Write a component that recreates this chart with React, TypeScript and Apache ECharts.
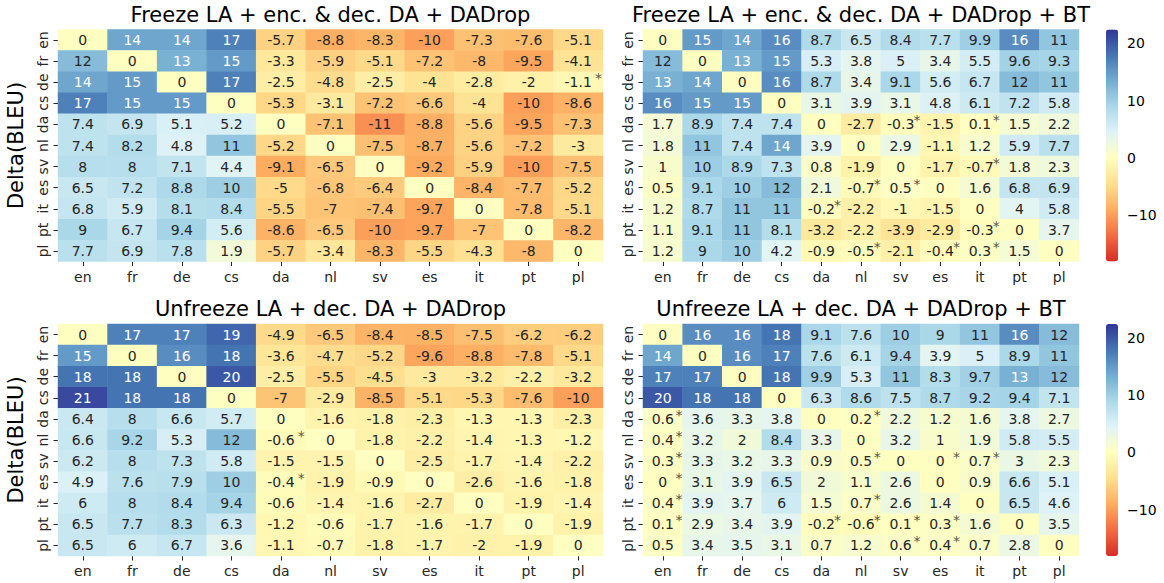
import React, { useEffect, useRef } from "react";
import * as echarts from "echarts";

const langs = ["en", "fr", "de", "cs", "da", "nl", "sv", "es", "it", "pt", "pl"];

const titles = [
  "Freeze LA + enc. & dec. DA + DADrop",
  "Freeze LA + enc. & dec. DA + DADrop + BT",
  "Unfreeze LA + dec. DA + DADrop",
  "Unfreeze LA + dec. DA + DADrop + BT",
];

const yAxisTitle = "Delta(BLEU)";
const colorbarTicks = [-10, 0, 10, 20];

// rows = source language (y), columns = target language (x)
const freezeDA = [
  [0, 14, 14, 17, -5.7, -8.8, -8.3, -10, -7.3, -7.6, -5.1],
  [12, 0, 13, 15, -3.3, -5.9, -5.1, -7.2, -8, -9.5, -4.1],
  [14, 15, 0, 17, -2.5, -4.8, -2.5, -4, -2.8, -2, -1.1],
  [17, 15, 15, 0, -5.3, -3.1, -7.2, -6.6, -4, -10, -8.6],
  [7.4, 6.9, 5.1, 5.2, 0, -7.1, -11, -8.8, -5.6, -9.5, -7.3],
  [7.4, 8.2, 4.8, 11, -5.2, 0, -7.5, -8.7, -5.6, -7.2, -3],
  [8, 8, 7.1, 4.4, -9.1, -6.5, 0, -9.2, -5.9, -10, -7.5],
  [6.5, 7.2, 8.8, 10, -5, -6.8, -6.4, 0, -8.4, -7.7, -5.2],
  [6.8, 5.9, 8.1, 8.4, -5.5, -7, -7.4, -9.7, 0, -7.8, -5.1],
  [9, 6.7, 9.4, 5.6, -8.6, -6.5, -10, -9.7, -7, 0, -8.2],
  [7.7, 6.9, 7.8, 1.9, -5.7, -3.4, -8.3, -5.5, -4.3, -8, 0],
];

const freezeDABT = [
  [0, 15, 14, 16, 8.7, 6.5, 8.4, 7.7, 9.9, 16, 11],
  [12, 0, 13, 15, 5.3, 3.8, 5, 3.4, 5.5, 9.6, 9.3],
  [13, 14, 0, 16, 8.7, 3.4, 9.1, 5.6, 6.7, 12, 11],
  [16, 15, 15, 0, 3.1, 3.9, 3.1, 4.8, 6.1, 7.2, 5.8],
  [1.7, 8.9, 7.4, 7.4, 0, -2.7, -0.3, -1.5, 0.1, 1.5, 2.2],
  [1.8, 11, 7.4, 14, 3.9, 0, 2.9, -1.1, 1.2, 5.9, 7.7],
  [1, 10, 8.9, 7.3, 0.8, -1.9, 0, -1.7, -0.7, 1.8, 2.3],
  [0.5, 9.1, 10, 12, 2.1, -0.7, 0.5, 0, 1.6, 6.8, 6.9],
  [1.2, 8.7, 11, 11, -0.2, -2.2, -1, -1.5, 0, 4, 5.8],
  [1.1, 9.1, 11, 8.1, -3.2, -2.2, -3.9, -2.9, -0.3, 0, 3.7],
  [1.2, 9, 10, 4.2, -0.9, -0.5, -2.1, -0.4, 0.3, 1.5, 0],
];

const unfreezeDA = [
  [0, 17, 17, 19, -4.9, -6.5, -8.4, -8.5, -7.5, -6.2, -6.2],
  [15, 0, 16, 18, -3.6, -4.7, -5.2, -9.6, -8.8, -7.8, -5.1],
  [18, 18, 0, 20, -2.5, -5.5, -4.5, -3, -3.2, -2.2, -3.2],
  [21, 18, 18, 0, -7, -2.9, -8.5, -5.1, -5.3, -7.6, -10],
  [6.4, 8, 6.6, 5.7, 0, -1.6, -1.8, -2.3, -1.3, -1.3, -2.3],
  [6.6, 9.2, 5.3, 12, -0.6, 0, -1.8, -2.2, -1.4, -1.3, -1.2],
  [6.2, 8, 7.3, 5.8, -1.5, -1.5, 0, -2.5, -1.7, -1.4, -2.2],
  [4.9, 7.6, 7.9, 10, -0.4, -1.9, -0.9, 0, -2.6, -1.6, -1.8],
  [6, 8, 8.4, 9.4, -0.6, -1.4, -1.6, -2.7, 0, -1.9, -1.4],
  [6.5, 7.7, 8.3, 6.3, -1.2, -0.6, -1.7, -1.6, -1.7, 0, -1.9],
  [6.5, 6, 6.7, 3.6, -1.1, -0.7, -1.8, -1.7, -2, -1.9, 0],
];

const unfreezeDABT = [
  [0, 16, 16, 18, 9.1, 7.6, 10, 9, 11, 16, 12],
  [14, 0, 16, 17, 7.6, 6.1, 9.4, 3.9, 5, 8.9, 11],
  [17, 17, 0, 18, 9.9, 5.3, 11, 8.3, 9.7, 13, 12],
  [20, 18, 18, 0, 6.3, 8.6, 7.5, 8.7, 9.2, 9.4, 7.1],
  [0.6, 3.6, 3.3, 3.8, 0, 0.2, 2.2, 1.2, 1.6, 3.8, 2.7],
  [0.4, 3.2, 2, 8.4, 3.3, 0, 3.2, 1, 1.9, 5.8, 5.5],
  [0.3, 3.3, 3.2, 3.3, 0.9, 0.5, 0, 0, 0.7, 3, 2.3],
  [0, 3.1, 3.9, 6.5, 2, 1.1, 2.6, 0, 0.9, 6.6, 5.1],
  [0.4, 3.9, 3.7, 6, 1.5, 0.7, 2.6, 1.4, 0, 6.5, 4.6],
  [0.1, 2.9, 3.4, 3.9, -0.2, -0.6, 0.1, 0.3, 1.6, 0, 3.5],
  [0.5, 3.4, 3.5, 3.1, 0.7, 1.2, 0.6, 0.4, 0.7, 2.8, 0],
];

// cells marked with an asterisk: [row, column]
const sigFreezeDA = [["de", "pl"]];
const sigFreezeDABT = [
  ["da", "sv"], ["da", "it"], ["sv", "it"], ["es", "nl"], ["es", "sv"],
  ["it", "da"], ["pt", "it"], ["pl", "nl"], ["pl", "es"], ["pl", "it"],
];
const sigUnfreezeDA = [["nl", "da"], ["es", "da"]];
const sigUnfreezeDABT = [
  ["da", "en"], ["nl", "en"], ["sv", "en"], ["es", "en"], ["it", "en"], ["pt", "en"],
  ["da", "nl"], ["sv", "nl"], ["it", "nl"], ["pt", "nl"], ["pt", "da"],
  ["sv", "es"], ["sv", "it"], ["pt", "sv"], ["pt", "es"], ["pl", "sv"], ["pl", "es"],
];

const matrices = [freezeDA, freezeDABT, unfreezeDA, unfreezeDABT];
const sigs = [sigFreezeDA, sigFreezeDABT, sigUnfreezeDA, sigUnfreezeDABT];

const VMIN = -18.1;
const VMAX = 22.4;
const FONT = "DejaVu Sans";
const FS = 14;

const RDYLBU = ["#a50026", "#d73027", "#f46d43", "#fdae61", "#fee090", "#ffffbf", "#e0f3f8", "#abd9e9", "#74add1", "#4575b4", "#313695"];

function hexRgb(h: string) {
  return [parseInt(h.slice(1, 3), 16), parseInt(h.slice(3, 5), 16), parseInt(h.slice(5, 7), 16)];
}
function cmapRgb(t: number) {
  t = Math.max(0, Math.min(1, t));
  const p = t * 10;
  const i = Math.min(9, Math.floor(p));
  const f = p - i;
  const a = hexRgb(RDYLBU[i]);
  const b = hexRgb(RDYLBU[i + 1]);
  return [0, 1, 2].map((k) => a[k] + (b[k] - a[k]) * f);
}
function valueRgb(v: number) {
  return cmapRgb((v + VMAX) / (2 * VMAX));
}
function toHex(rgb: number[]) {
  return "#" + rgb.map((c) => Math.round(c).toString(16).padStart(2, "0")).join("");
}
function isDark(v: number) {
  const lin = valueRgb(v).map((c) => {
    const s = c / 255;
    return s <= 0.03928 ? s / 12.92 : Math.pow((s + 0.055) / 1.055, 2.4);
  });
  const l = 0.2126 * lin[0] + 0.7152 * lin[1] + 0.0722 * lin[2];
  return l <= 0.408;
}

const stops: string[] = [];
for (let i = 0; i <= 80; i++) {
  const v = VMIN + ((VMAX - VMIN) * i) / 80;
  stops.push(toHex(valueRgb(v)));
}

const grids = [
  { left: 58, top: 29.5, width: 545, height: 232 },
  { left: 643, top: 29.5, width: 436, height: 232 },
  { left: 58, top: 324, width: 545, height: 232 },
  { left: 643, top: 324, width: 436, height: 232 },
];
const cbars = [
  { left: 1106, top: 29.5, width: 12, height: 232 },
  { left: 1106, top: 324, width: 12, height: 232 },
];

function buildOption() {
  const grid: any[] = [...grids, ...cbars];
  const xAxis: any[] = [];
  const yAxis: any[] = [];
  const series: any[] = [];
  const graphic: any[] = [];

  grids.forEach((g, gi) => {
    xAxis.push({
      type: "category",
      gridIndex: gi,
      data: langs,
      axisLine: { show: false },
      axisTick: { show: true, interval: 0, alignWithLabel: true, length: 4.5, lineStyle: { color: "#262626", width: 1 } },
      axisLabel: { interval: 0, fontSize: FS, color: "#262626", fontFamily: FONT, margin: 8 },
      splitLine: { show: false },
    });
    yAxis.push({
      type: "category",
      gridIndex: gi,
      data: langs,
      inverse: true,
      axisLine: { show: false },
      axisTick: { show: true, interval: 0, alignWithLabel: true, length: 4.5, lineStyle: { color: "#262626", width: 1 } },
      axisLabel: { interval: 0, fontSize: FS, color: "#262626", fontFamily: FONT, rotate: 90, margin: 8 },
      splitLine: { show: false },
    });
  });
  cbars.forEach((c, ci) => {
    xAxis.push({ type: "value", gridIndex: 4 + ci, show: false, min: 0, max: 1 });
    yAxis.push({
      type: "value",
      gridIndex: 4 + ci,
      min: VMIN,
      max: VMAX,
      position: "right",
      axisLine: { show: false },
      splitLine: { show: false },
      axisTick: { show: true, length: 4.5, customValues: colorbarTicks, lineStyle: { color: "#000" } },
      axisLabel: {
        show: true,
        customValues: colorbarTicks,
        fontSize: FS,
        color: "#000",
        fontFamily: FONT,
        margin: 9,
        formatter: (v: number) => String(v).replace("-", "\u2212"),
      },
    });
  });

  matrices.forEach((m, gi) => {
    const data: any[] = [];
    m.forEach((row, r) => row.forEach((v, c) => data.push([c, r, v])));
    series.push({
      type: "heatmap",
      xAxisIndex: gi,
      yAxisIndex: gi,
      data,
      emphasis: { disabled: true },
      label: {
        show: true,
        fontSize: FS,
        fontFamily: FONT,
        formatter: (p: any) => {
          const v = p.value[2];
          return "{" + (isDark(v) ? "w" : "d") + "|" + String(v) + "}";
        },
        rich: {
          d: { color: "#262626", fontSize: FS, fontFamily: FONT },
          w: { color: "#ffffff", fontSize: FS, fontFamily: FONT },
        },
      },
    });
  });

  sigs.forEach((s, gi) => {
    const cellW = grids[gi].width / langs.length;
    series.push({
      type: "scatter",
      xAxisIndex: gi,
      yAxisIndex: gi,
      symbol: "circle",
      symbolSize: 1,
      itemStyle: { color: "rgba(0,0,0,0)" },
      silent: true,
      data: s.map(([r, c]) => [langs.indexOf(c), langs.indexOf(r)]),
      label: {
        show: true,
        position: "inside",
        offset: [cellW * 0.41, -4],
        formatter: "*",
        fontSize: FS,
        fontFamily: FONT,
        color: "#262626",
      },
    });
  });

  grids.forEach((g, gi) => {
    graphic.push({
      type: "text",
      x: g.left + g.width / 2,
      y: g.top - 15,
      style: { text: titles[gi], fontSize: 21, fontFamily: FONT, fill: "#000", textAlign: "center", textVerticalAlign: "middle" },
    });
    if (gi % 2 === 0) {
      graphic.push({
        type: "text",
        x: 16,
        y: g.top + g.height / 2,
        rotation: Math.PI / 2,
        style: { text: yAxisTitle, fontSize: 21, fontFamily: FONT, fill: "#000", textAlign: "center", textVerticalAlign: "middle" },
      });
    }
  });

  const visualMap = cbars.map((c, ci) => ({
    type: "continuous",
    min: VMIN,
    max: VMAX,
    seriesIndex: [ci * 2, ci * 2 + 1],
    calculable: false,
    hoverLink: false,
    show: true,
    left: c.left,
    top: c.top,
    itemWidth: c.width,
    itemHeight: c.height,
    padding: 0,
    text: null,
    inRange: { color: stops },
  }));

  return {
    animation: false,
    backgroundColor: "#ffffff",
    textStyle: { fontFamily: FONT },
    grid,
    xAxis,
    yAxis,
    visualMap,
    series,
    graphic,
  };
}

export default function App() {
  const ref = useRef<HTMLDivElement>(null);
  useEffect(() => {
    if (!ref.current) return;
    const chart = echarts.init(ref.current, null, { renderer: "svg" });
    chart.setOption(buildOption() as any);
    return () => chart.dispose();
  }, []);
  return (
    <div
      ref={ref}
      style={{ position: "absolute", left: 0, top: 0, width: 1164, height: 583, background: "#fff" }}
    />
  );
}
